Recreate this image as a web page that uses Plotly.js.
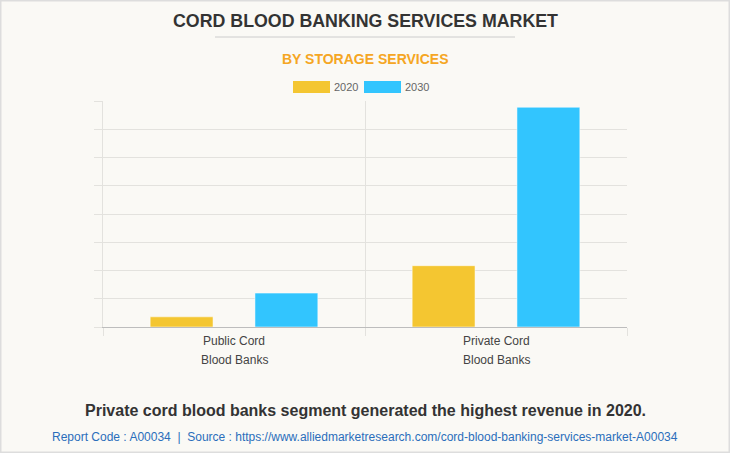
<!DOCTYPE html>
<html>
<head>
<meta charset="utf-8">
<script src="https://cdn.plot.ly/plotly-3.0.1.min.js"></script>
<style>
html,body{margin:0;padding:0;background:#FAF9F5;}
#chart{width:730px;height:453px;}
</style>
</head>
<body>
<div id="chart"></div>
<script>
const categories = ["Public Cord Blood Banks", "Private Cord Blood Banks"];
const categoryLines = [["Public Cord", "Blood Banks"], ["Private Cord", "Blood Banks"]];
const seriesNames = ["2020", "2030"];
const values2020 = [0.36, 2.17];
const values2030 = [1.2, 7.78];
const colors = ["#F4C631", "#32C5FE"];

const FONT = "Liberation Sans, Arial, sans-serif";

const traces = [values2020, values2030].map((vals, i) => ({
  type: "bar",
  name: seriesNames[i],
  x: categories,
  y: vals,
  marker: {color: colors[i], line: {color: "rgba(255,255,255,0.5)", width: 1}},
  showlegend: false,
  hoverinfo: "skip"
}));

// custom legend (boxes + labels) built from the series names
const legendShapes = [];
const legendAnn = [];
const legendX = [293, 364];
seriesNames.forEach((n, i) => {
  legendShapes.push({type: "rect", xref: "paper", yref: "paper",
    x0: (legendX[i] - 103) / 524, x1: (legendX[i] + 37 - 103) / 524,
    y0: (327 - 81) / 226, y1: (327 - 93) / 226,
    fillcolor: colors[i], line: {width: 0}});
  legendAnn.push({text: n, xref: "paper", yref: "paper",
    x: (legendX[i] + 39 - 103) / 524, y: (327 - 87) / 226,
    xanchor: "left", yanchor: "middle", showarrow: false,
    font: {family: FONT, size: 11, color: "#666"}});
});

// category labels (two lines each, wider line spacing than tick labels allow)
const catAnn = [];
categories.forEach((c, i) => {
  categoryLines[i].forEach((line, j) => {
    catAnn.push({text: line, xref: "x", yref: "paper", x: c,
      y: (327 - (341 + 19 * j)) / 226, xanchor: "center", yanchor: "middle",
      showarrow: false, font: {family: FONT, size: 12, color: "#444"}});
  });
});

const layout = {
  width: 730, height: 453,
  paper_bgcolor: "#FAF9F5", plot_bgcolor: "#FAF9F5",
  margin: {l: 103, r: 103, t: 101, b: 126},
  barmode: "group", bargap: 0.2, bargroupgap: 0.4,
  xaxis: {
    type: "category", tickson: "boundaries", showgrid: true, gridcolor: "#E3E2DE",
    ticks: "outside", ticklen: 8, tickcolor: "#E3E2DE", showticklabels: false,
    showline: true, linecolor: "#BDBDBD", linewidth: 1,
    fixedrange: true
  },
  yaxis: {
    range: [0, 8], dtick: 1, showticklabels: false,
    showgrid: true, gridcolor: "#E3E2DE", zeroline: false,
    ticks: "outside", ticklen: 8, tickcolor: "#E3E2DE",
    showline: true, linecolor: "#E3E2DE", fixedrange: true
  },
  shapes: [
    {type: "line", xref: "paper", yref: "paper", x0: (215 - 103) / 524, x1: (515 - 103) / 524,
      y0: (327 - 37) / 226, y1: (327 - 37) / 226, line: {color: "#CCCCCC", width: 1}},
    {type: "rect", xref: "paper", yref: "paper", x0: -103 / 524, x1: 627 / 524,
      y0: -126 / 226, y1: 327 / 226, line: {color: "#DDDDDD", width: 3}}
  ].concat(legendShapes),
  annotations: [
    {text: "<b>CORD BLOOD BANKING SERVICES MARKET</b>", xref: "paper", yref: "paper",
      x: 0.5, y: (327 - 21) / 226, xanchor: "center", yanchor: "middle", showarrow: false,
      font: {family: FONT, size: 17.8, color: "#333333"}},
    {text: "<b>BY STORAGE SERVICES</b>", xref: "paper", yref: "paper",
      x: 0.5, y: (327 - 59) / 226, xanchor: "center", yanchor: "middle", showarrow: false,
      font: {family: FONT, size: 14, color: "#F5A623"}},
    {text: "<b>Private cord blood banks segment generated the highest revenue in 2020.</b>", xref: "paper", yref: "paper",
      x: 0.5, y: (327 - 410) / 226, xanchor: "center", yanchor: "middle", showarrow: false,
      font: {family: FONT, size: 16, color: "#333333"}},
    {text: "Report Code : A00034  |  Source : https://www.alliedmarketresearch.com/cord-blood-banking-services-market-A00034", xref: "paper", yref: "paper",
      x: 0.5, y: (327 - 437) / 226, xanchor: "center", yanchor: "middle", showarrow: false,
      font: {family: FONT, size: 12, color: "#2A6EBB"}}
  ].concat(legendAnn, catAnn)
};

Plotly.newPlot("chart", traces, layout, {displayModeBar: false, staticPlot: true});
</script>
</body>
</html>
